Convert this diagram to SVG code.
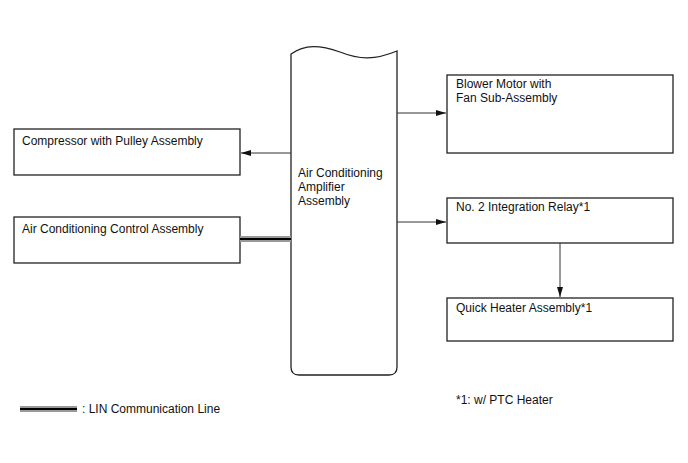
<svg xmlns="http://www.w3.org/2000/svg" width="688" height="463" viewBox="0 0 688 463">
<style>
.box{fill:#fff;stroke:#222;stroke-width:1.3}
.t{font-family:"Liberation Sans",Arial,sans-serif;font-size:12px;fill:#111}
.c{stroke:#333;stroke-width:1;fill:none}
.lin1{stroke:#999;stroke-width:6;fill:none}
.lin2{stroke:#000;stroke-width:2;fill:none}
</style>
<defs>
<marker id="ah" viewBox="0 0 10 6" refX="10" refY="3" markerWidth="10" markerHeight="6" markerUnits="userSpaceOnUse" orient="auto">
<path d="M0,0 L10,3 L0,6 Z" fill="#111"/>
</marker>
</defs>
<rect width="688" height="463" fill="#fff"/>
<g id="amplifier">
<path class="box" d="M291,54 C305,44 320,45 340,52 C360,60 375,60 397,51 L397,367 Q397,375 389,375 L299,375 Q291,375 291,367 Z"/>
<text class="t" x="298" y="177">Air Conditioning</text>
<text class="t" x="298" y="191">Amplifier</text>
<text class="t" x="298" y="205">Assembly</text>
</g>
<g id="compressor">
<rect class="box" x="14" y="129" width="226" height="46"/>
<text class="t" x="22" y="145">Compressor with Pulley Assembly</text>
</g>
<g id="control">
<rect class="box" x="14" y="217" width="226" height="46"/>
<text class="t" x="22" y="233">Air Conditioning Control Assembly</text>
</g>
<g id="blower">
<rect class="box" x="447" y="75" width="226" height="78"/>
<text class="t" x="456" y="88">Blower Motor with</text>
<text class="t" x="456" y="102">Fan Sub-Assembly</text>
</g>
<g id="relay">
<rect class="box" x="447" y="198" width="226" height="45"/>
<text class="t" x="456" y="211">No. 2 Integration Relay*1</text>
</g>
<g id="heater">
<rect class="box" x="447" y="298" width="226" height="43"/>
<text class="t" x="456" y="312">Quick Heater Assembly*1</text>
</g>
<g id="connectors">
<line class="c" x1="291" y1="153" x2="241" y2="153" marker-end="url(#ah)"/>
<line class="c" x1="397" y1="113" x2="446" y2="113" marker-end="url(#ah)"/>
<line class="c" x1="397" y1="222" x2="446" y2="222" marker-end="url(#ah)"/>
<line class="c" x1="560" y1="243" x2="560" y2="297" marker-end="url(#ah)"/>
<line class="lin1" x1="240" y1="239" x2="291" y2="239"/>
<line class="lin2" x1="240" y1="239" x2="291" y2="239"/>
</g>
<g id="legend">
<line class="lin1" x1="20" y1="409" x2="77" y2="409"/>
<line class="lin2" x1="20" y1="409" x2="77" y2="409"/>
<text class="t" x="82" y="413">: LIN Communication Line</text>
<text class="t" x="456" y="404">*1: w/ PTC Heater</text>
</g>
</svg>
